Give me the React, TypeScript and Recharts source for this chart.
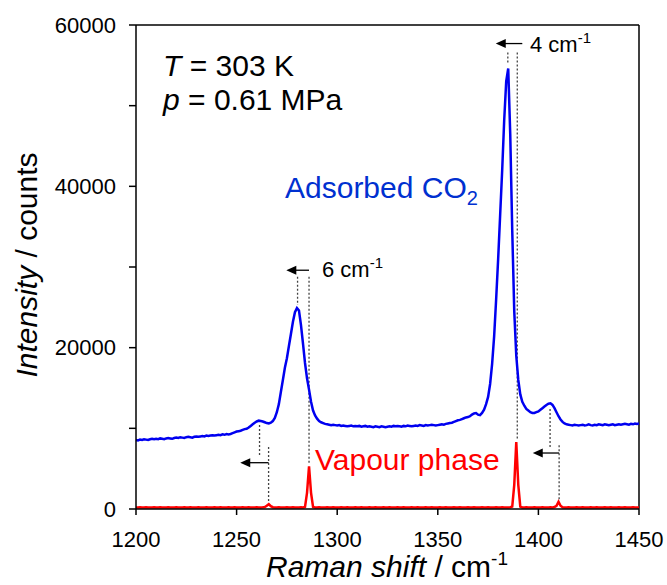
import {
  ComposedChart,
  Line,
  ReferenceDot,
  ReferenceLine,
  XAxis,
  YAxis,
} from 'recharts';

// Raman spectrum, one reading per cm-1 starting at 1200
const shiftStart = 1200;

const adsorbedCounts = [
  8550, 8500, 8600, 8550, 8650, 8600, 8550, 8650, 8700, 8650,
  8700, 8650, 8750, 8700, 8650, 8750, 8800, 8750, 8700, 8800,
  8850, 8800, 8900, 8850, 8800, 8900, 8950, 8900, 8850, 8950,
  9000, 8950, 9000, 9050, 9000, 9100, 9050, 9100, 9150, 9100,
  9150, 9200, 9150, 9250, 9200, 9300, 9250, 9300, 9400, 9500,
  9600, 9650, 9700, 9800, 9900, 9950, 10100, 10300, 10500, 10700,
  10850, 10950, 10900, 10850, 10750, 10650, 10600, 10700, 10900, 11300,
  12000, 13000, 14500, 16000, 17500, 18700, 20200, 21700, 23200, 24400,
  24900, 24600, 22800, 20500, 18100, 16200, 14800, 13300, 12200, 11600,
  11200, 10900, 10750, 10650, 10550, 10500, 10450, 10400, 10450, 10400,
  10350, 10400, 10300, 10350, 10300, 10250, 10300, 10350, 10250, 10300,
  10250, 10300, 10200, 10250, 10300, 10200, 10250, 10200, 10150, 10250,
  10200, 10150, 10250, 10200, 10150, 10200, 10250, 10200, 10300, 10250,
  10300, 10250, 10200, 10300, 10250, 10350, 10300, 10250, 10300, 10350,
  10300, 10400, 10350, 10300, 10400, 10350, 10400, 10450, 10400, 10350,
  10400, 10450, 10500, 10450, 10550, 10600, 10650, 10700, 10800, 10900,
  11000, 11050, 11150, 11250, 11350, 11400, 11500, 11700, 11850, 11900,
  11700, 11650, 11900, 12300, 13000, 13900, 15500, 18000, 21400, 26000,
  31000, 36500, 42000, 48200, 53000, 54600, 46500, 34500, 24500, 19000,
  16000, 14200, 13300, 12800, 12400, 12200, 12000, 11900, 11900, 12000,
  12100, 12300, 12500, 12700, 12900, 13050, 13100, 12900, 12500, 12000,
  11500, 11100, 10800, 10600, 10500, 10450, 10400, 10350, 10450, 10400,
  10350, 10400, 10450, 10350, 10400, 10500, 10400, 10350, 10450, 10400,
  10500, 10450, 10400, 10500, 10450, 10400, 10450, 10500, 10400, 10450,
  10500, 10450, 10500, 10550, 10500, 10450, 10550, 10500, 10600, 10550,
  10600,
];

const vapourCounts = [
  200, 180, 220, 200, 190, 210, 200, 180, 200, 220,
  200, 190, 210, 200, 180, 200, 220, 200, 190, 200,
  210, 200, 180, 200, 220, 200, 190, 210, 200, 180,
  200, 220, 200, 190, 200, 210, 200, 180, 200, 220,
  200, 190, 210, 200, 180, 200, 220, 200, 190, 210,
  200, 180, 200, 220, 200, 190, 210, 200, 180, 200,
  220, 200, 190, 210, 250, 400, 600, 350, 220, 200,
  190, 210, 200, 180, 200, 220, 200, 190, 210, 200,
  180, 200, 220, 200, 250, 2000, 5300, 2000, 250, 200,
  190, 210, 200, 180, 200, 220, 200, 190, 210, 200,
  180, 200, 220, 200, 190, 210, 200, 180, 200, 220,
  200, 190, 210, 200, 180, 200, 220, 200, 190, 210,
  200, 180, 200, 220, 200, 190, 210, 200, 180, 200,
  220, 200, 190, 210, 200, 180, 200, 220, 200, 190,
  210, 200, 180, 200, 220, 200, 190, 210, 200, 180,
  200, 220, 200, 190, 210, 200, 180, 200, 220, 200,
  190, 210, 200, 180, 200, 220, 200, 190, 210, 200,
  180, 200, 220, 200, 190, 210, 200, 180, 200, 220,
  200, 190, 210, 200, 180, 200, 220, 300, 3000, 8300,
  3000, 300, 200, 190, 210, 200, 180, 200, 220, 200,
  200, 190, 210, 200, 180, 200, 220, 200, 250, 400,
  900, 400, 220, 200, 190, 210, 200, 180, 200, 220,
  200, 190, 210, 200, 180, 200, 220, 200, 190, 210,
  200, 180, 200, 220, 200, 190, 210, 200, 180, 200,
  220, 200, 190, 210, 200, 180, 200, 220, 200, 190,
  200,
];

const xTicks = [1200, 1250, 1300, 1350, 1400, 1450];
const yTicks = [0, 10000, 20000, 30000, 40000, 50000, 60000];

// dotted guide lines: shift, top and bottom intensity
const guides = [
  { x: 1280.3, top: 28800, bottom: 25300 },
  { x: 1286, top: 28800, bottom: 5700 },
  { x: 1384.8, top: 56600, bottom: 55200 },
  { x: 1389.5, top: 56600, bottom: 8600 },
  { x: 1261.4, top: 10400, bottom: 6700 },
  { x: 1265.9, top: 7700, bottom: 900 },
  { x: 1405.8, top: 12400, bottom: 7700 },
  { x: 1410.3, top: 7900, bottom: 1100 },
];

// shift arrows pointing to lower wavenumber
const arrows = [
  { tail: 1286, tip: 1274.7, y: 29600 },
  { tail: 1392, tip: 1378.8, y: 57700 },
  { tail: 1265.9, tip: 1251.8, y: 5740 },
  { tail: 1410.3, tip: 1397.2, y: 6940 },
];

const rows = adsorbedCounts.map((v, i) => ({
  shift: shiftStart + i,
  adsorbed: v,
  vapour: vapourCounts[i],
}));

const font = '"Liberation Sans", Arial, sans-serif';
const tickStyle = { fill: '#000', fontSize: 22, fontFamily: font };
const blue = '#0000f0';
const red = '#ff0000';

const arrowHead = (props: any) => {
  const { cx, cy } = props;
  if (cx == null || cy == null) return <g />;
  return (
    <polygon
      points={`${cx},${cy} ${cx + 10},${cy - 4.5} ${cx + 10},${cy + 4.5}`}
      fill="#000"
    />
  );
};

export default function App() {
  return (
    <div style={{ position: 'absolute', left: 0, top: 0, width: 667, height: 585 }}>
      <ComposedChart
        width={667}
        height={585}
        data={rows}
        margin={{ top: 25, right: 28, bottom: 0, left: 0 }}
      >
        <XAxis
          type="number"
          dataKey="shift"
          domain={[1200, 1450]}
          ticks={xTicks}
          height={76}
          tickSize={6}
          tickMargin={16}
          axisLine={{ stroke: '#000', strokeWidth: 1.5 }}
          tickLine={{ stroke: '#000', strokeWidth: 1.5 }}
          tick={tickStyle}
        />
        <YAxis
          type="number"
          domain={[0, 60000]}
          ticks={yTicks}
          width={136}
          tickSize={7}
          tickMargin={13}
          interval={0}
          tickFormatter={(v: number) => (v % 20000 === 0 ? String(v) : '')}
          axisLine={{ stroke: '#000', strokeWidth: 1.5 }}
          tickLine={{ stroke: '#000', strokeWidth: 1.5 }}
          tick={tickStyle}
        />
        <ReferenceLine y={60000} stroke="#000" strokeWidth={1.5} />
        <ReferenceLine x={1450} stroke="#000" strokeWidth={1.5} />
        {guides.map((g, i) => (
          <ReferenceLine
            key={'g' + i}
            segment={[
              { x: g.x, y: g.top },
              { x: g.x, y: g.bottom },
            ]}
            stroke="#444"
            strokeWidth={1.3}
            strokeDasharray="2 2"
          />
        ))}
        {arrows.map((a, i) => (
          <ReferenceLine
            key={'a' + i}
            segment={[
              { x: a.tail, y: a.y },
              { x: a.tip + 3, y: a.y },
            ]}
            stroke="#000"
            strokeWidth={1.3}
          />
        ))}
        {arrows.map((a, i) => (
          <ReferenceDot key={'h' + i} x={a.tip} y={a.y} shape={arrowHead} />
        ))}
        <Line
          type="linear"
          dataKey="adsorbed"
          stroke={blue}
          strokeWidth={2.5}
          dot={false}
          isAnimationActive={false}
        />
        <Line
          type="linear"
          dataKey="vapour"
          stroke={red}
          strokeWidth={2.5}
          dot={false}
          isAnimationActive={false}
        />
      </ComposedChart>
      <svg
        width={667}
        height={585}
        style={{ position: 'absolute', left: 0, top: 0, pointerEvents: 'none' }}
        fontFamily={font}
      >
        <text x={163} y={76} fontSize={30} fill="#000">
          <tspan fontStyle="italic">T</tspan> = 303 K
        </text>
        <text x={163} y={110} fontSize={30} fill="#000">
          <tspan fontStyle="italic">p</tspan> = 0.61 MPa
        </text>
        <text x={285} y={198} fontSize={30} fill="#0030d0">
          Adsorbed CO
          <tspan dy={7} fontSize={20}>2</tspan>
        </text>
        <text x={315} y={470} fontSize={30} fill={red}>
          Vapour phase
        </text>
        <text x={322} y={277} fontSize={22} fill="#000">
          6 cm
          <tspan dy={-9} fontSize={15}>-1</tspan>
        </text>
        <text x={530} y={52} fontSize={22} fill="#000">
          4 cm
          <tspan dy={-9} fontSize={15}>-1</tspan>
        </text>
        <text x={387} y={577} fontSize={30} fill="#000" textAnchor="middle">
          <tspan fontStyle="italic">Raman shift</tspan> / cm
          <tspan dy={-12} fontSize={19}>-1</tspan>
        </text>
        <text
          transform="translate(37,265) rotate(-90)"
          fontSize={30}
          fill="#000"
          textAnchor="middle"
        >
          <tspan fontStyle="italic">Intensity</tspan> / counts
        </text>
      </svg>
    </div>
  );
}
